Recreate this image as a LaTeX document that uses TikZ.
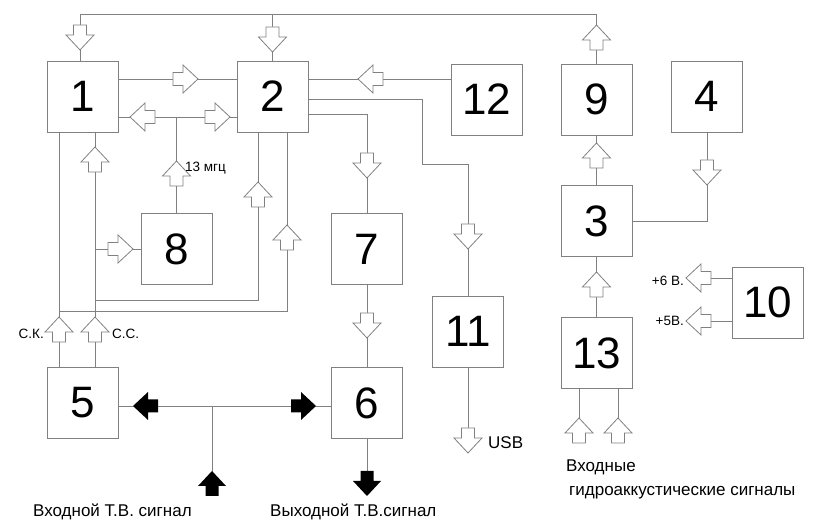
\documentclass[tikz,border=0pt]{standalone}
\usepackage{fontspec}
\setmainfont{Liberation Sans}
\usepackage{xcolor}
\definecolor{wiregray}{RGB}{128,128,128}
\tikzset{
  pics/hollowarr/.style={code={
    \draw[wiregray,line width=0.8pt,fill=white,line join=miter]
      (0,0) -- (-15,14) -- (-15,6.5) -- (-25,6.5) -- (-25,-6.5) -- (-15,-6.5) -- (-15,-14) -- cycle;}},
  pics/blackarr/.style={code={
    \fill[black]
      (0,0) -- (-15,14) -- (-15,6.5) -- (-25,6.5) -- (-25,-6.5) -- (-15,-6.5) -- (-15,-14) -- cycle;}}
}

\begin{document}
\begin{tikzpicture}[x=1pt,y=-1pt,
    wire/.style={draw=wiregray,line width=0.8pt},
    blk/.style={draw=wiregray,line width=0.8pt,fill=white,minimum size=71pt,inner sep=0pt,font=\fontsize{44}{44}\selectfont},
    lbl/.style={font=\fontsize{13.5}{13.5}\selectfont,inner sep=0pt},
    capt/.style={font=\fontsize{17}{17}\selectfont,inner sep=0pt}]
    \useasboundingbox (0,0) rectangle (823,521);

    % blocks
    \node[blk] (b1) at (83,96.5) {1};
    \node[blk] (b2) at (272.5,96.5) {2};
    \node[blk] (b12) at (486.5,99.5) {12};
    \node[blk] (b9) at (596.5,99.5) {9};
    \node[blk] (b4) at (707,96.5) {4};
    \node[blk] (b8) at (176.5,249) {8};
    \node[blk] (b7) at (367,249) {7};
    \node[blk] (b3) at (596.5,221) {3};
    \node[blk] (b11) at (468,331.5) {11};
    \node[blk] (b10) at (768,302.5) {10};
    \node[blk] (b13) at (596.5,353) {13};
    \node[blk] (b5) at (83,403) {5};
    \node[blk] (b6) at (367,403) {6};

    % top bus 9 -> 1, 2
    \draw[wire] (b1.north -| 80,0) -- (80,14) -- (b9.north |- 0,14) -- (b9.north);
    \draw[wire] (b2.north |- 0,14) -- (b2.north);

    % links between 1, 2, 8
    \draw[wire] (b1.east |- 0,79) -- (b2.west |- 0,79);
    \draw[wire] (b1.east |- 0,117) -- (b2.west |- 0,117);
    \draw[wire] (b8.north |- 0,117) -- (b8.north);
    \draw[wire] (b1.south -| 95,0) -- (b5.north -| 95,0);
    \draw[wire] (b1.south -| 59,0) -- (b5.north -| 59,0);
    \draw[wire] (95,249) -- (b8.west);
    \draw[wire] (95,300) -| (b2.south -| 258,0);
    \draw[wire] (59,311) -| (b2.south -| 287,0);

    % right part of 2
    \draw[wire] (b12.west |- 0,79) -- (b2.east |- 0,79);
    \draw[wire] (b2.east |- 0,99) -- (422,99) -- (422,164) -| (b11.north);
    \draw[wire] (b2.east |- 0,114) -| (b7.north);
    \draw[wire] (b7.south) -- (b6.north);
    \draw[wire] (b11.south) -- (b11.south |- 0,440);

    % 3, 4, 9, 13, 10
    \draw[wire] (b3.north) -- (b9.south);
    \draw[wire] (b4.south) |- (b3.east);
    \draw[wire] (b13.north) -- (b3.south);
    \draw[wire] (b13.south -| 579,0) -- (579,430);
    \draw[wire] (b13.south -| 618,0) -- (618,430);
    \draw[wire] (b10.west |- 0,278) -- (700,278);
    \draw[wire] (b10.west |- 0,321) -- (700,321);

    % TV signal bus
    \draw[wire] (b5.east |- 0,406) -- (b6.west |- 0,406);
    \draw[wire] (212,406) -- (212,480);
    \draw[wire] (b6.south) -- (b6.south |- 0,480);

    % hollow arrows
    \pic[rotate=-90] at (80,50) {hollowarr};
    \pic[rotate=-90] at (272.5,52) {hollowarr};
    \pic[rotate=90] at (596.5,25) {hollowarr};
    \pic at (198,79) {hollowarr};
    \pic[rotate=180] at (130,117) {hollowarr};
    \pic at (230,117) {hollowarr};
    \pic[rotate=90] at (176.5,161) {hollowarr};
    \pic[rotate=90] at (95,147) {hollowarr};
    \pic at (133,249) {hollowarr};
    \pic[rotate=90] at (258,182) {hollowarr};
    \pic[rotate=90] at (287,225) {hollowarr};
    \pic[rotate=90] at (59,317) {hollowarr};
    \pic[rotate=90] at (95,317) {hollowarr};
    \pic[rotate=180] at (358,79) {hollowarr};
    \pic[rotate=-90] at (468,249) {hollowarr};
    \pic[rotate=-90] at (367,178) {hollowarr};
    \pic[rotate=-90] at (367,338) {hollowarr};
    \pic[rotate=-90] at (468,453) {hollowarr};
    \pic[rotate=90] at (596.5,143) {hollowarr};
    \pic[rotate=-90] at (707,185) {hollowarr};
    \pic[rotate=90] at (596.5,272) {hollowarr};
    \pic[rotate=90] at (579,418) {hollowarr};
    \pic[rotate=90] at (618,418) {hollowarr};
    \pic[rotate=180] at (686,278) {hollowarr};
    \pic[rotate=180] at (686,321) {hollowarr};

    % black arrows
    \pic[rotate=180] at (133,406) {blackarr};
    \pic at (316,406) {blackarr};
    \pic[rotate=90] at (212,471) {blackarr};
    \pic[rotate=-90] at (367,496) {blackarr};

    % labels
    \node[lbl,anchor=base west] (f13) at (185,171.5) {13 мгц};
    \node[lbl,anchor=base east] (sk) at (44,339) {С.К.};
    \node[lbl,anchor=base west] (ss) at (112,339) {С.С.};
    \node[capt,anchor=base west] (usb) at (488,449) {USB};
    \node[lbl,anchor=base east] (p6) at (684,286) {+6 В.};
    \node[lbl,anchor=base east] (p5) at (684,326) {+5В.};
    \node[capt,anchor=base west] (inh) at (566,471.5) {Входные};
    \node[capt,anchor=base west] (inh2) at (569,496) {гидроаккустические сигналы};
    \node[capt,anchor=base west] (intv) at (33,516.5) {Входной Т.В. сигнал};
    \node[capt,anchor=base west] (outtv) at (270,516.5) {Выходной Т.В.сигнал};
\end{tikzpicture}
\end{document}
